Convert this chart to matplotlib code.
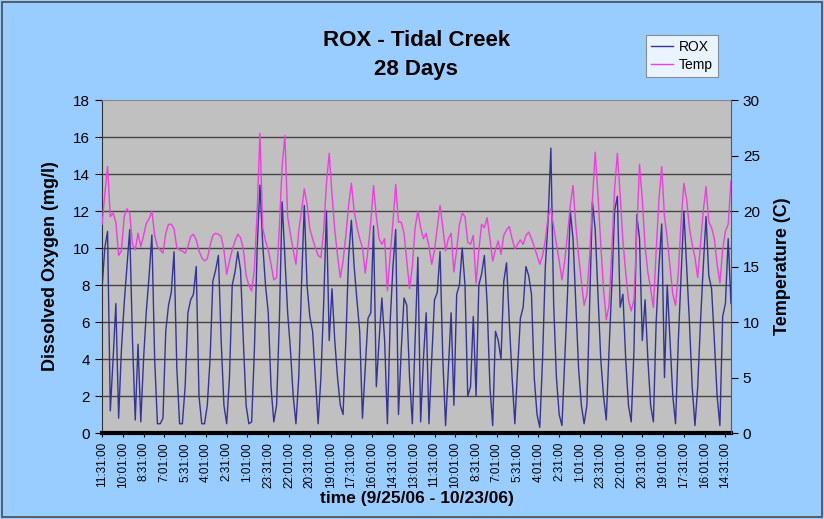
import numpy as np
import matplotlib
matplotlib.use("Agg")
import matplotlib.pyplot as plt
from matplotlib.patches import Rectangle

plt.rcParams['font.family'] = ['Liberation Sans', 'DejaVu Sans']

# readings every 3 hours, starting 9/25/06 11:31 (one row per day)
step_hours = 3

rox_by_day = [
    [7.8, 10.0, 10.9, 1.2, 4.0, 7.0, 0.8, 4.5],
    [7.0, 9.0, 11.0, 5.0, 0.7, 4.8, 0.6, 4.0],
    [6.6, 8.5, 10.7, 4.0, 0.5, 0.5, 0.8, 5.5],
    [6.9, 7.6, 9.8, 3.5, 0.5, 0.5, 2.5, 6.5],
    [7.2, 7.5, 9.0, 2.0, 0.5, 0.5, 1.5, 4.0],
    [8.2, 8.8, 9.6, 5.0, 1.5, 0.5, 3.0, 8.0],
    [8.7, 9.8, 8.8, 5.0, 1.5, 0.5, 0.6, 4.5],
    [10.0, 13.4, 10.2, 8.0, 6.5, 2.5, 0.6, 1.5],
    [6.0, 12.5, 9.5, 6.5, 4.5, 2.0, 0.5, 3.0],
    [8.0, 12.3, 8.0, 6.3, 5.5, 3.0, 0.5, 3.0],
    [7.0, 12.0, 5.0, 7.8, 5.0, 3.0, 1.5, 1.0],
    [5.0, 9.5, 11.5, 9.0, 7.2, 5.5, 0.8, 3.5],
    [6.2, 6.5, 11.2, 2.5, 5.0, 7.3, 5.0, 0.5],
    [6.0, 9.0, 11.0, 1.0, 4.5, 7.3, 6.9, 3.0],
    [0.5, 5.0, 9.5, 0.6, 4.0, 6.5, 0.5, 4.0],
    [7.2, 7.6, 9.8, 4.0, 0.4, 3.5, 6.5, 1.5],
    [7.5, 8.0, 10.0, 8.0, 2.0, 2.5, 6.3, 2.0],
    [8.0, 8.6, 9.6, 7.0, 2.5, 0.4, 5.5, 5.0],
    [4.0, 8.2, 9.2, 6.0, 3.0, 0.5, 3.5, 6.2],
    [6.8, 9.0, 8.5, 7.5, 3.0, 1.0, 0.3, 4.0],
    [9.0, 11.5, 15.4, 7.0, 3.0, 1.0, 0.4, 4.0],
    [7.5, 12.0, 10.5, 7.0, 3.5, 1.5, 0.5, 1.5],
    [7.0, 12.5, 11.0, 7.5, 4.0, 2.0, 0.7, 4.5],
    [8.0, 12.0, 12.8, 6.8, 7.5, 4.0, 1.5, 0.6],
    [4.5, 11.8, 10.5, 5.0, 7.2, 4.0, 1.5, 0.6],
    [6.0, 9.0, 11.3, 3.0, 8.0, 5.0, 2.0, 0.5],
    [5.0, 8.5, 12.0, 9.0, 6.0, 2.5, 0.4, 2.5],
    [6.0, 9.0, 11.7, 8.5, 7.8, 5.0, 2.0, 0.4],
    [6.3, 7.0, 10.5, 7.0],
]

temp_by_day = [
    [18.8, 21.5, 24.0, 19.5, 19.8, 19.0, 16.0, 16.4],
    [19.5, 20.2, 19.8, 17.0, 16.5, 18.0, 16.8, 17.8],
    [18.9, 19.3, 20.0, 17.8, 16.8, 16.5, 16.2, 18.0],
    [18.8, 18.8, 18.4, 16.7, 16.5, 16.4, 16.2, 16.8],
    [17.7, 17.9, 17.4, 16.4, 15.8, 15.5, 15.7, 16.9],
    [17.8, 18.0, 17.9, 17.7, 16.5, 14.3, 15.5, 16.5],
    [17.3, 17.9, 17.6, 16.6, 14.2, 13.3, 12.8, 14.8],
    [20.0, 27.0, 18.5, 17.3, 16.5, 15.2, 13.8, 14.0],
    [18.5, 24.0, 26.8, 19.5, 17.9, 16.5, 15.2, 18.2],
    [20.0, 22.0, 20.6, 18.4, 17.5, 16.7, 16.0, 15.8],
    [18.2, 22.5, 25.2, 21.5, 18.3, 16.0, 14.0, 15.5],
    [17.8, 20.5, 22.5, 20.0, 18.6, 17.5, 16.7, 14.4],
    [16.5, 19.0, 22.3, 19.5, 17.5, 17.0, 17.5, 12.8],
    [16.0, 19.0, 22.4, 19.0, 19.0, 18.0, 15.5, 13.0],
    [15.0, 18.5, 20.0, 18.5, 17.5, 18.0, 16.8, 15.2],
    [16.5, 18.5, 20.5, 18.5, 16.4, 17.5, 18.0, 14.5],
    [16.5, 18.8, 19.8, 19.5, 17.2, 17.0, 17.8, 13.5],
    [16.5, 18.8, 18.5, 19.4, 17.5, 15.5, 16.5, 17.3],
    [16.1, 17.8, 18.3, 18.6, 17.5, 16.6, 17.0, 17.4],
    [17.0, 17.8, 18.1, 17.5, 16.8, 16.0, 15.2, 16.0],
    [17.4, 19.5, 20.2, 18.6, 17.0, 15.5, 13.8, 15.5],
    [17.9, 20.5, 22.3, 18.7, 16.0, 13.7, 11.5, 12.5],
    [16.0, 21.0, 25.3, 21.5, 17.0, 13.0, 10.2, 11.5],
    [16.5, 22.0, 25.2, 21.5, 17.3, 14.5, 12.0, 11.0],
    [12.0, 18.0, 24.2, 21.0, 16.8, 14.5, 13.0, 11.3],
    [16.4, 21.0, 24.0, 19.5, 17.5, 15.0, 12.5, 11.5],
    [14.5, 19.0, 22.5, 21.0, 18.5, 17.0, 15.8, 14.0],
    [17.0, 20.0, 22.2, 19.0, 18.5, 17.5, 15.2, 13.5],
    [16.5, 18.2, 18.8, 22.7],
]

tick_labels = [
    "11:31:00", "10:01:00", "8:31:00", "7:01:00", "5:31:00", "4:01:00",
    "2:31:00", "1:01:00", "23:31:00", "22:01:00", "20:31:00", "19:01:00",
    "17:31:00", "16:01:00", "14:31:00", "13:01:00", "11:31:00", "10:01:00",
    "8:31:00", "7:01:00", "5:31:00", "4:01:00", "2:31:00", "1:01:00",
    "23:31:00", "22:01:00", "20:31:00", "19:01:00", "17:31:00", "16:01:00",
    "14:31:00",
]
tick_step_hours = 22.5

rox = [v for day in rox_by_day for v in day]
temp = [v for day in temp_by_day for v in day]
hours = np.arange(len(rox)) * step_hours
tick_hours = np.arange(len(tick_labels)) * tick_step_hours

fig = plt.figure(figsize=(8.24, 5.19), dpi=100, facecolor='#99CCFF')
ax = fig.add_axes([0.1238, 0.1657, 0.7633, 0.6416])
ax.set_facecolor('#C0C0C0')

l1, = ax.plot(hours, rox, color='#333399', lw=1.0, label='ROX')
ax.set_xlim(0, 681)
ax.set_ylim(0, 18)
ax.set_yticks(range(0, 19, 2))
ax.yaxis.grid(True, color='#444444', lw=1.0)
ax.get_ygridlines()[-1].set_visible(False)
ax.set_axisbelow(True)
ax.set_xticks(tick_hours)
ax.set_xticklabels(tick_labels, rotation=90, fontsize=8.5)
ax.tick_params(axis='y', labelsize=11, length=5, direction='out')
ax.tick_params(axis='x', length=3, direction='out')

for side in ['left']:
    ax.spines[side].set_color('#333333')
ax.spines['bottom'].set_linewidth(3)
ax.spines['bottom'].set_color('black')
ax.spines['top'].set_color('#888888')
ax.spines['right'].set_visible(False)

ax.set_ylabel('Dissolved Oxygen (mg/l)', fontsize=13, fontweight='bold', labelpad=10)
ax.set_xlabel('time (9/25/06 - 10/23/06)', fontsize=12.5, fontweight='bold', labelpad=2)

ax2 = ax.twinx()
l2, = ax2.plot(hours, temp, color='#F03CE0', lw=1.0, label='Temp')
ax2.set_ylim(0, 30)
ax2.set_yticks(range(0, 31, 5))
ax2.tick_params(axis='y', labelsize=11, length=5, direction='out')
for side in ['top', 'left', 'bottom']:
    ax2.spines[side].set_visible(False)
ax2.spines['right'].set_color('#4a5a7a')
ax2.set_ylabel('Temperature (C)', fontsize=13, fontweight='bold', labelpad=10)

fig.text(0.505, 1 - 40 / 519, 'ROX - Tidal Creek', ha='center', va='center',
         fontsize=16, fontweight='bold')
fig.text(0.505, 1 - 70 / 519, '28 Days', ha='center', va='center',
         fontsize=16, fontweight='bold')

leg = fig.legend([l1, l2], ['ROX', 'Temp'], loc='upper left',
                 bbox_to_anchor=(646 / 824, 1 - 35 / 519), fontsize=10,
                 frameon=True, fancybox=False, edgecolor='#777777',
                 handlelength=1.6, borderpad=0.35, labelspacing=0.3,
                 handletextpad=0.4, borderaxespad=0)
leg.get_frame().set_linewidth(0.8)

fig.patches.append(Rectangle((0.002, 0.003), 0.995, 0.993, transform=fig.transFigure,
                             fill=False, edgecolor='#4a4a4a', lw=1.2))

fig.savefig('out.png', dpi=100, facecolor=fig.get_facecolor())
